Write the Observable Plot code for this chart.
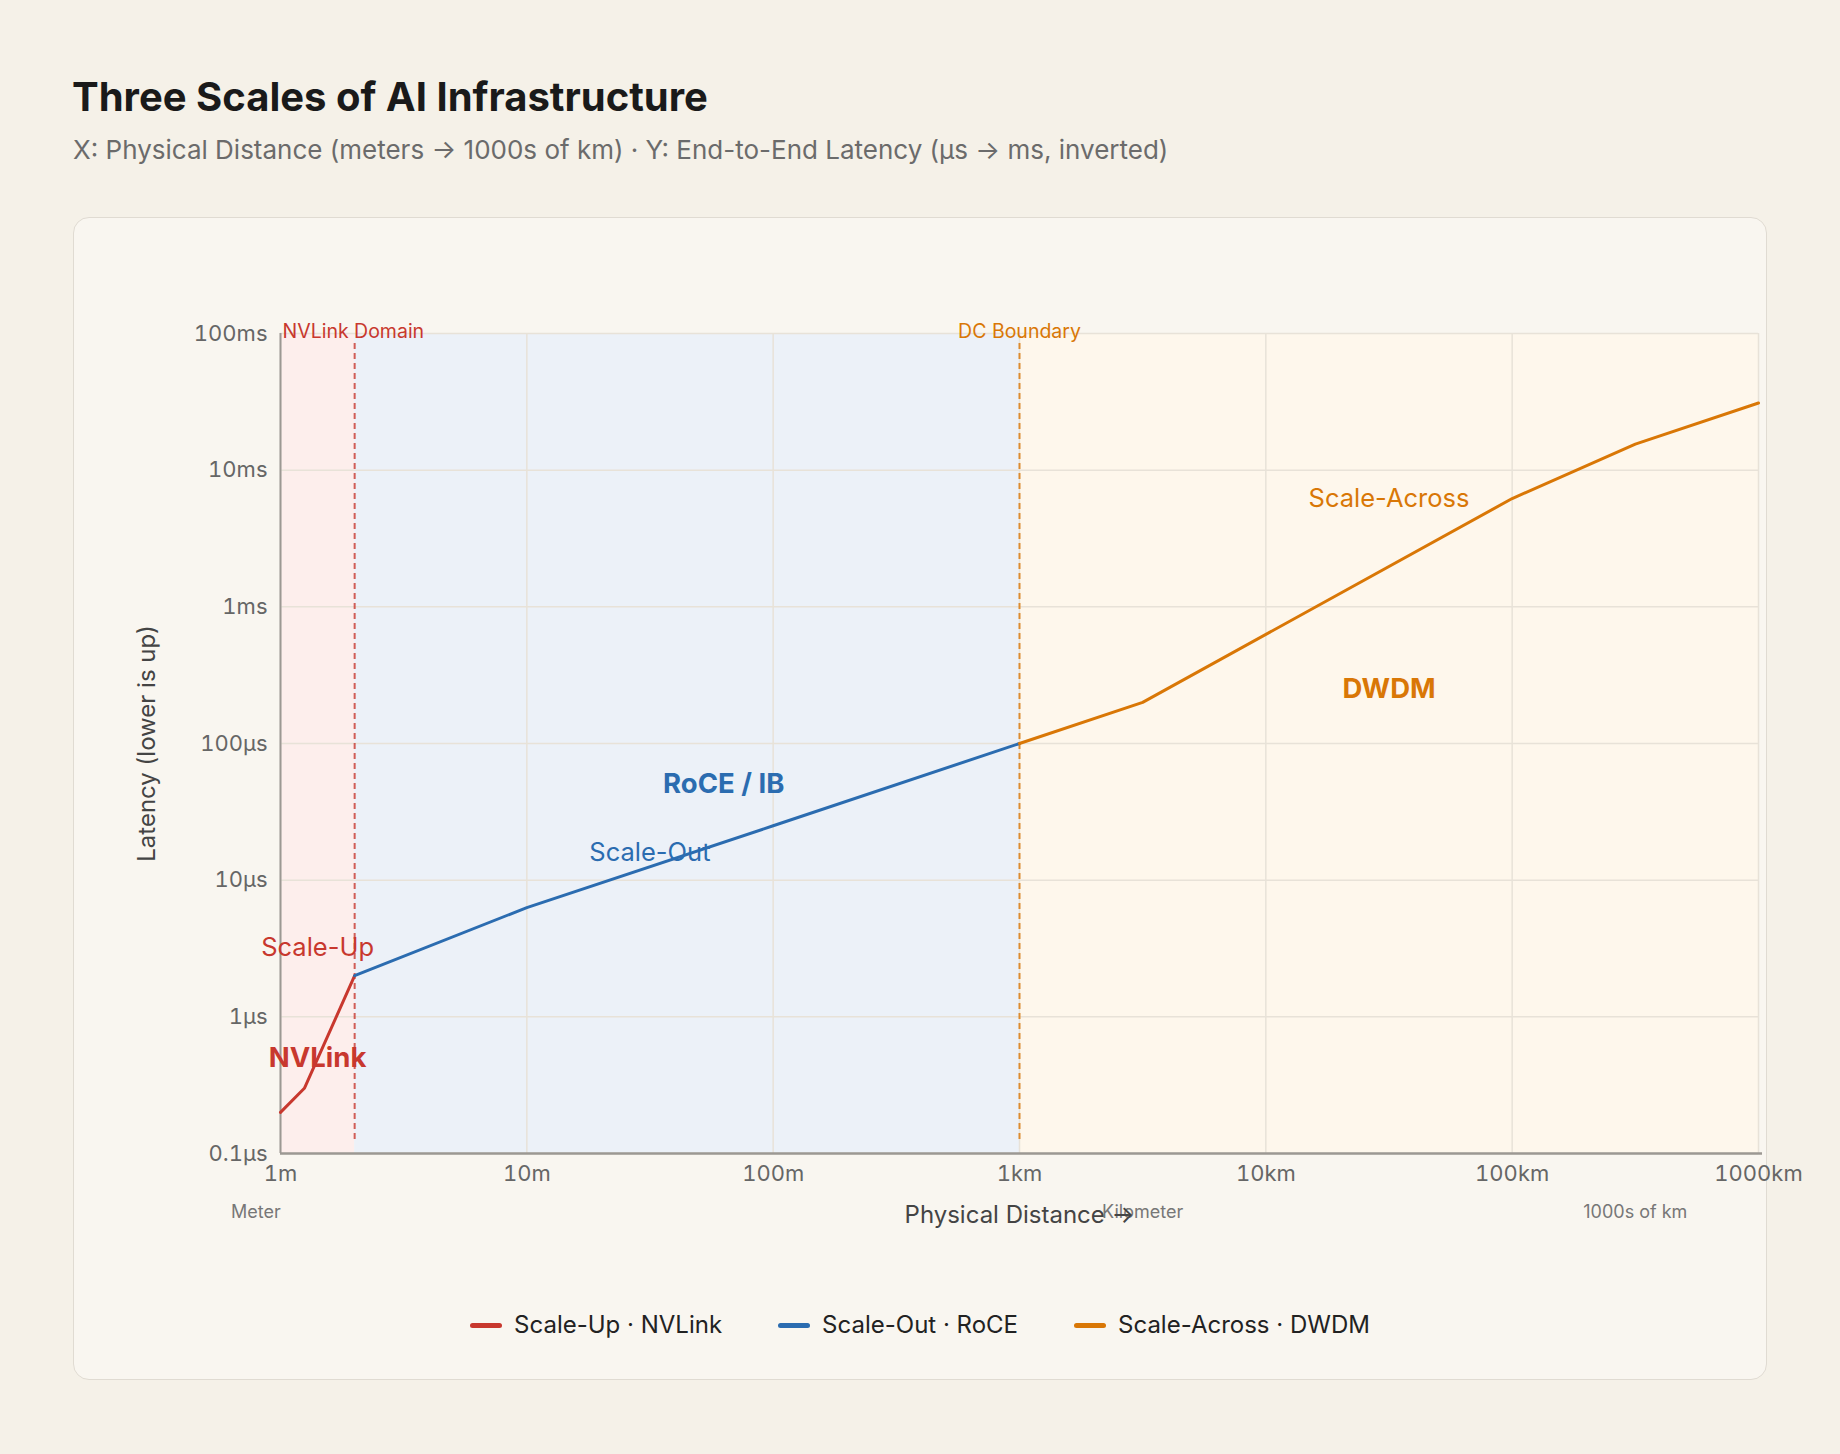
<!DOCTYPE html>
<html>
<head>
<meta charset="utf-8">
<script src="https://cdn.jsdelivr.net/npm/d3@7"></script>
<script src="https://cdn.jsdelivr.net/npm/@observablehq/plot@0.6"></script>
<style>
  html, body { margin: 0; padding: 0; background: #f5f1e8; width: 1840px; height: 1454px; overflow: hidden; font-family: Inter, "Noto Sans", sans-serif; }
  #title { position: absolute; left: 72px; top: 77px; margin: 0; font-size: 40px; line-height: 40px; font-weight: 700; color: #1a1a1a; }
  #subtitle { position: absolute; left: 73px; top: 135px; margin: 0; font-size: 26px; line-height: 30px; color: #6b6b6b; }
  #card { position: absolute; left: 73px; top: 217px; width: 1692px; height: 1161px; background: #f9f6f0; border: 1.5px solid #e0dbd2; border-radius: 16px; }
  #chart { position: absolute; left: 0; top: 217px; }
  #legend { position: absolute; left: 73px; width: 1694px; top: 1310px; display: flex; justify-content: center; gap: 56px; font-size: 24px; line-height: 30px; color: #222; }
  .item { display: flex; align-items: center; gap: 12px; }
  .sw { width: 32px; height: 5px; border-radius: 3px; }
</style>
</head>
<body>
<h1 id="title">Three Scales of AI Infrastructure</h1>
<p id="subtitle">X: Physical Distance (meters → 1000s of km) · Y: End-to-End Latency (μs → ms, inverted)</p>
<div id="card"></div>
<div id="chart"></div>
<div id="legend"></div>
<script>
// ---- data (distance in meters, latency in microseconds) ----
const seriesNames = ["Scale-Up · NVLink", "Scale-Out · RoCE", "Scale-Across · DWDM"];
const seriesColors = ["#c8382e", "#2b6cb0", "#d97706"];

const scaleUpDistance = [1, 1.25, 2];
const scaleUpLatency = [0.2, 0.3, 2];
const scaleOutDistance = [2, 10, 100, 1000];
const scaleOutLatency = [2, 6.3, 25, 100];
const scaleAcrossDistance = [1000, 3162, 100000, 316228, 1000000];
const scaleAcrossLatency = [100, 200, 6200, 15500, 31000];

const regionStart = [1, 2, 1000];
const regionEnd = [2, 1000, 1000000];
const regionFill = ["#fdeeec", "#ecf1f8", "#fef7ec"];

const boundaryDistance = [2, 1000];
const boundaryLabels = ["NVLink Domain", "DC Boundary"];
const boundaryColors = ["#c8382e", "#d97706"];

const xTicks = [1, 10, 100, 1000, 10000, 100000, 1000000];
const xTickLabels = ["1m", "10m", "100m", "1km", "10km", "100km", "1000km"];
const yTicks = [0.1, 1, 10, 100, 1000, 10000, 100000];
const yTickLabels = ["0.1μs", "1μs", "10μs", "100μs", "1ms", "10ms", "100ms"];

const annotationText = ["Scale-Up", "NVLink", "Scale-Out", "RoCE / IB", "Scale-Across", "DWDM"];
const annotationDistance = [1.414, 1.414, 31.6, 63, 31623, 31623];
const annotationLatency = [3.2, 0.5, 15.8, 50, 6200, 250];
const annotationBold = [false, true, false, true, false, true];
const annotationSeries = [0, 0, 1, 1, 2, 2];

const unitLabels = ["Meter", "Kilometer", "1000s of km"];
const unitDistance = [0.794, 3162, 316228];

const xTitle = "Physical Distance →";
const yTitle = "Latency (lower is up)";

// ---- tables built from the arrays ----
const seriesData = [
  {name: seriesNames[0], color: seriesColors[0], pts: scaleUpDistance.map((d, i) => ({d, l: scaleUpLatency[i]}))},
  {name: seriesNames[1], color: seriesColors[1], pts: scaleOutDistance.map((d, i) => ({d, l: scaleOutLatency[i]}))},
  {name: seriesNames[2], color: seriesColors[2], pts: scaleAcrossDistance.map((d, i) => ({d, l: scaleAcrossLatency[i]}))}
];
const regions = regionStart.map((s, i) => ({s, e: regionEnd[i], fill: regionFill[i]}));
const annotations = annotationText.map((t, i) => ({t, d: annotationDistance[i], l: annotationLatency[i], bold: annotationBold[i], color: seriesColors[annotationSeries[i]]}));
const units = unitLabels.map((t, i) => ({t, d: unitDistance[i]}));
const yMin = yTicks[0], yMax = yTicks[yTicks.length - 1];

const marks = [];
regions.forEach(r => marks.push(Plot.rect([r], {x1: "s", x2: "e", y1: () => yMin, y2: () => yMax, fill: r.fill})));
marks.push(Plot.gridX(xTicks, {stroke: "#e8e2d8", strokeOpacity: 1, strokeWidth: 1.5}));
marks.push(Plot.gridY(yTicks, {stroke: "#e8e2d8", strokeOpacity: 1, strokeWidth: 1.5}));
boundaryDistance.forEach((b, i) => marks.push(Plot.ruleX([b], {stroke: boundaryColors[i], strokeOpacity: 0.8, strokeWidth: 2, strokeDasharray: "6,4", insetTop: 10, insetBottom: 13})));
marks.push(Plot.ruleY([yMin], {stroke: "#9c9893", strokeWidth: 2.5, insetRight: -4}));
marks.push(Plot.ruleX([xTicks[0]], {stroke: "#9c9893", strokeWidth: 2}));
seriesData.forEach(s => marks.push(Plot.line(s.pts, {x: "d", y: "l", stroke: s.color, strokeWidth: 3, strokeLinejoin: "round"})));
// boundary labels
marks.push(Plot.text([boundaryLabels[0]], {x: () => xTicks[0], y: () => yMax, text: d => d, textAnchor: "start", dx: 2, dy: -2, fill: boundaryColors[0], fontSize: 19.5}));
marks.push(Plot.text([boundaryLabels[1]], {x: () => boundaryDistance[1], y: () => yMax, text: d => d, textAnchor: "middle", dy: -2, fill: boundaryColors[1], fontSize: 19.5}));
// annotations
annotations.forEach(a => marks.push(Plot.text([a], {x: "d", y: "l", text: "t", fill: a.color, fontSize: a.bold ? 27.5 : 25.5, fontWeight: a.bold ? 700 : 400})));
// axes
marks.push(Plot.axisX(xTicks, {tickFormat: d => xTickLabels[xTicks.indexOf(d)], tickSize: 0, tickPadding: 12, fontSize: 22, fill: "#666", label: null}));
marks.push(Plot.axisY(yTicks, {tickFormat: d => yTickLabels[yTicks.indexOf(d)], tickSize: 0, tickPadding: 13, fontSize: 22, fill: "#666", label: null}));
// unit labels & axis titles
marks.push(Plot.text(units, {x: "d", text: "t", frameAnchor: "bottom", dy: 64, fontSize: 18, fill: "#777"}));
marks.push(Plot.text([xTitle], {text: d => d, frameAnchor: "bottom", dy: 69, fontSize: 24, fill: "#444"}));
marks.push(Plot.text([yTitle], {text: d => d, frameAnchor: "left", textAnchor: "middle", dx: -133, rotate: -90, fontSize: 24, fill: "#444"}));

const chart = Plot.plot({
  width: 1840, height: 1016,
  marginLeft: 280, marginRight: 82, marginTop: 116, marginBottom: 80,
  style: {background: "transparent", overflow: "visible", fontFamily: "Inter, sans-serif", fontSize: "22px", maxWidth: "none"},
  x: {type: "log", domain: [xTicks[0], xTicks[xTicks.length - 1]]},
  y: {type: "log", domain: [yMin, yMax]},
  marks
});
document.getElementById("chart").appendChild(chart);

// legend
const legend = document.getElementById("legend");
seriesNames.forEach((n, i) => {
  const item = document.createElement("div");
  item.className = "item";
  const sw = document.createElement("span");
  sw.className = "sw";
  sw.style.background = seriesColors[i];
  const label = document.createElement("span");
  label.textContent = n;
  item.appendChild(sw);
  item.appendChild(label);
  legend.appendChild(item);
});
</script>
</body>
</html>
